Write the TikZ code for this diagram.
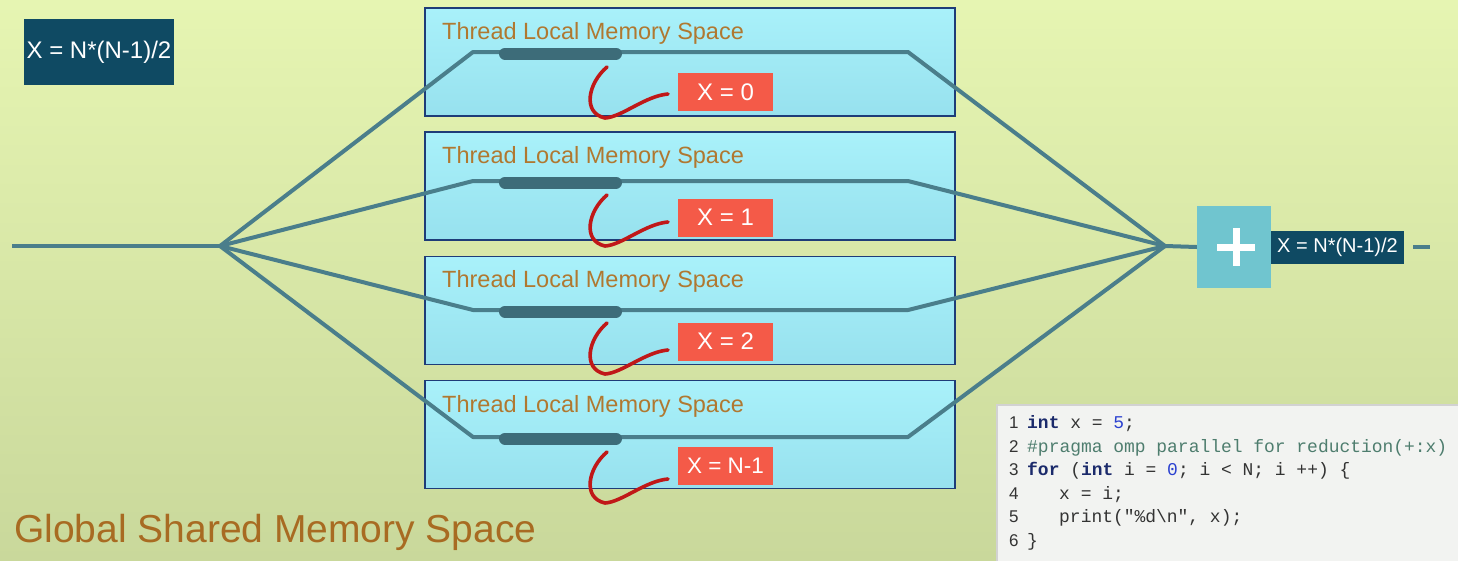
\documentclass[tikz,border=0pt]{standalone}
\usepackage{fontspec}
\setmainfont{Liberation Sans}
\newfontfamily\codefont{Liberation Mono}
\definecolor{bgtop}{HTML}{E6F5B2}
\definecolor{bgbot}{HTML}{C9D89B}
\definecolor{navy}{HTML}{0F4A63}
\definecolor{wire}{HTML}{4A7E8B}
\definecolor{barc}{HTML}{3D6C79}
\definecolor{cyantop}{HTML}{A9F1FA}
\definecolor{cyanbot}{HTML}{97E1EE}
\definecolor{boxline}{HTML}{1E3C78}
\definecolor{titlec}{HTML}{B07830}
\definecolor{globalc}{HTML}{A86B22}
\definecolor{redbox}{HTML}{F45A48}
\definecolor{redcurve}{HTML}{C01818}
\definecolor{plusc}{HTML}{70C5CF}
\definecolor{codebg}{HTML}{F2F3F1}
\definecolor{kw}{HTML}{1B2A6B}
\definecolor{num}{HTML}{2A40D0}
\definecolor{prc}{HTML}{4E7D6E}
\definecolor{codetxt}{HTML}{333333}
\tikzset{
  tbox/.style={draw=boxline, line width=1.2pt, top color=cyantop, bottom color=cyanbot,
    minimum width=530pt, minimum height=108pt, inner sep=0pt},
  ttitle/.style={anchor=base west, inner sep=0pt, text=titlec, font=\fontsize{23.5}{28}\selectfont},
  wireline/.style={draw=wire, line width=4pt, line join=round},
  barline/.style={draw=barc, line width=12pt, line cap=round},
  redline/.style={draw=redcurve, line width=3.6pt, line cap=round},
  redlabel/.style={fill=redbox, text=white, minimum width=95pt, minimum height=38pt, inner sep=0pt,
    font=\fontsize{24}{28}\selectfont},
  navybox/.style={fill=navy, text=white, inner sep=0pt},
  codeline/.style={anchor=base west, inner sep=0pt, text=codetxt, font=\codefont\fontsize{17.95}{22}\selectfont},
  codenum/.style={anchor=base west, inner sep=0pt, text=codetxt, font=\fontsize{17}{22}\selectfont},
}
\begin{document}
\begin{tikzpicture}[x=1pt, y=-1pt]
\useasboundingbox (0,0) rectangle (1458,560);
\shade[top color=bgtop, bottom color=bgbot] (0,0) rectangle (1458,560);

% top-left formula
\node[navybox, minimum width=150pt, minimum height=66pt, font=\fontsize{24}{28}\selectfont] (formula) at (99,52) {X = N*(N-1)/2};

% thread boxes
\node[tbox] (b1) at (690,62) {};
\node[tbox] (b2) at (690,186) {};
\node[tbox] (b3) at (690,310.5) {};
\node[tbox] (b4) at (690,434.5) {};

\node[ttitle] (t1) at (442,39) {Thread Local Memory Space};
\node[ttitle] (t2) at (442,163) {Thread Local Memory Space};
\node[ttitle] (t3) at (442,287) {Thread Local Memory Space};
\node[ttitle] (t4) at (442,412) {Thread Local Memory Space};

% wires
\coordinate (start) at (12,246);
\coordinate (split) at (220,246);
\coordinate (join) at (1165,246);
\coordinate (l1) at (473,52);  \coordinate (r1) at (908,52);
\coordinate (l2) at (473,181); \coordinate (r2) at (908,181);
\coordinate (l3) at (473,310); \coordinate (r3) at (908,310);
\coordinate (l4) at (473,437); \coordinate (r4) at (908,437);

% plus box and result
\node[fill=plusc, minimum width=74pt, minimum height=82pt, inner sep=0pt] (plus) at (1234,247) {};
\node[navybox, minimum width=133pt, minimum height=33pt, font=\fontsize{20}{24}\selectfont] (res) at (1337.5,247.5) {X = N*(N-1)/2};
\coordinate (d1) at (1413,247);
\coordinate (d2) at (1430,247);

\draw[wireline] (start) -- (split);
\foreach \i in {1,2,3,4} {
  \draw[wireline] (split) -- (l\i) -- (r\i) -- (join);
}
\draw[wireline] (join) -- (plus.west);
\draw[wireline] (d1) -- (d2);

% plus sign
\draw[white, line width=7pt] ([xshift=-17pt]plus.center) -- ([xshift=21pt]plus.center);
\draw[white, line width=7pt] ([xshift=2pt,yshift=19pt]plus.center) -- ([xshift=2pt,yshift=-19pt]plus.center);

% bars
\foreach \i/\y in {1/53.5,2/182.5,3/311.5,4/438.5} {
  \coordinate (ba\i) at (505,\y);
  \coordinate (bb\i) at (616,\y);
  \draw[barline] (ba\i) -- (bb\i);
}

% red curves
\foreach \i/\s in {1/67,2/195,3/323,4/452} {
  \coordinate (cs\i) at (607,\s);
  \coordinate (cb\i) at (605,\s+51);
  \coordinate (ce\i) at (668,\s+27);
  \draw[redline] (cs\i) .. controls (588,\s+16) and (582,\s+46) .. (cb\i)
     .. controls (622,\s+50) and (645,\s+29) .. (ce\i);
}

% red labels
\node[redlabel] (x1) at (725.5,92) {X = 0};
\node[redlabel] (x2) at (725.5,217.5) {X = 1};
\node[redlabel] (x3) at (725.5,341.5) {X = 2};
\node[redlabel, font=\fontsize{22.5}{26}\selectfont] (x4) at (725.5,466) {X = N-1};

% global label
\node[anchor=base west, inner sep=0pt, text=globalc, font=\fontsize{39}{44}\selectfont] (global) at (14,542) {Global Shared Memory Space};

% code box
\node[fill=codebg, draw=gray!35, line width=1.5pt, anchor=north west, minimum width=470pt, minimum height=160pt, inner sep=0pt] (code) at (996,404) {};
\node[codenum] (n1) at (1009,428) {1};
\node[codenum] (n2) at (1009,452) {2};
\node[codenum] (n3) at (1009,475) {3};
\node[codenum] (n4) at (1009,499) {4};
\node[codenum] (n5) at (1009,522) {5};
\node[codenum] (n6) at (1009,546) {6};
\node[codeline] (c1) at (1027,428) {{\bfseries\color{kw}int} x = {\color{num}5};};
\node[codeline] (c2) at (1027,452) {{\color{prc}\#pragma omp parallel for reduction(+:x)}};
\node[codeline] (c3) at (1027,475) {{\bfseries\color{kw}for} ({\bfseries\color{kw}int} i = {\color{num}0}; i < N; i ++) \{};
\node[codeline] (c4) at (1059,499) {x = i;};
\node[codeline] (c5) at (1059,522) {print("\%d\textbackslash n", x);};
\node[codeline] (c6) at (1027,546) {\}};
\end{tikzpicture}
\end{document}
